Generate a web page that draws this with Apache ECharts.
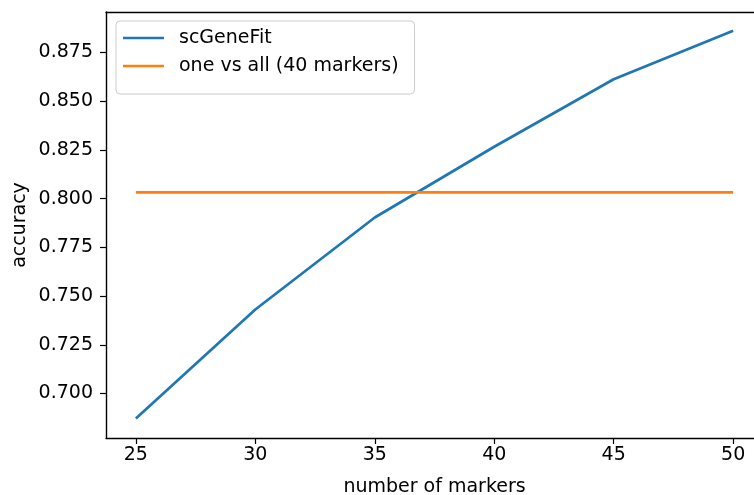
<!DOCTYPE html>
<html>
<head>
<meta charset="utf-8">
<script src="https://cdn.jsdelivr.net/npm/echarts@6/dist/echarts.min.js"></script>
<style>html,body{margin:0;padding:0;background:#fff}#c{width:754px;height:495px}</style>
</head>
<body>
<div id="c"></div>
<script>
const xValues = [25, 30, 35, 40, 45, 50];
const scGeneFit = [0.6872, 0.7431, 0.7903, 0.8266, 0.8612, 0.8861];
const oneVsAll = [0.8032, 0.8032, 0.8032, 0.8032, 0.8032, 0.8032];
const xTicks = [25, 30, 35, 40, 45, 50];
const yTicks = [0.700, 0.725, 0.750, 0.775, 0.800, 0.825, 0.850, 0.875];
const seriesNames = ['scGeneFit', 'one vs all (40 markers)'];

const font = 'DejaVu Sans';
const fs = 19;
const chart = echarts.init(document.getElementById('c'), null, {renderer: 'canvas'});
chart.setOption({
  animation: false,
  backgroundColor: '#fff',
  grid: {left: 106, top: 12, width: 657, height: 426, containLabel: false, outerBoundsMode: 'none'},
  legend: {
    orient: 'vertical', left: 116, top: 21,
    padding: [7, 16, 18, 7],
    icon: 'rect',
    itemWidth: 41, itemHeight: 2.7, itemGap: 8,
    backgroundColor: 'rgba(255,255,255,0.8)',
    borderColor: '#cccccc', borderWidth: 1, borderRadius: 4,
    textStyle: {fontFamily: font, fontSize: fs, color: '#000', lineHeight: 20, padding: [0, 0, 0, 10]},
    data: seriesNames
  },
  xAxis: [{
    type: 'value', min: 23.75, max: 51.25,
    name: 'number of markers', nameLocation: 'middle', nameGap: 40,
    nameTextStyle: {fontFamily: font, fontSize: fs, color: '#000'},
    axisLine: {onZero: false, lineStyle: {color: '#000', width: 1.4}},
    axisTick: {customValues: xTicks, length: 6, lineStyle: {color: '#000', width: 1.2}},
    axisLabel: {customValues: xTicks, margin: 8, fontFamily: font, fontSize: fs, color: '#000'},
    splitLine: {show: false}
  }, {
    type: 'value', position: 'top', min: 23.75, max: 51.25,
    axisLine: {show: true, onZero: false, lineStyle: {color: '#000', width: 1.4}},
    axisTick: {show: false}, axisLabel: {show: false}, splitLine: {show: false}
  }],
  yAxis: {
    type: 'value', min: 0.6772, max: 0.8957,
    name: 'accuracy', nameLocation: 'middle', nameGap: 76, nameMoveOverlap: false,
    nameTextStyle: {fontFamily: font, fontSize: fs, color: '#000'},
    axisLine: {show: true, onZero: false, lineStyle: {color: '#000', width: 1.4}},
    axisTick: {show: true, customValues: yTicks, length: 6, lineStyle: {color: '#000', width: 1.2}},
    axisLabel: {customValues: yTicks, margin: 13, fontFamily: font, fontSize: fs, color: '#000',
      formatter: v => v.toFixed(3)},
    splitLine: {show: false}
  },
  series: [
    {name: seriesNames[0], type: 'line', symbol: 'none', color: '#1f77b4',
     lineStyle: {width: 2.7, color: '#1f77b4'},
     data: xValues.map((x, i) => [x, scGeneFit[i]])},
    {name: seriesNames[1], type: 'line', symbol: 'none', color: '#ff7f0e',
     lineStyle: {width: 2.7, color: '#ff7f0e'},
     data: xValues.map((x, i) => [x, oneVsAll[i]])}
  ]
});
</script>
</body>
</html>
